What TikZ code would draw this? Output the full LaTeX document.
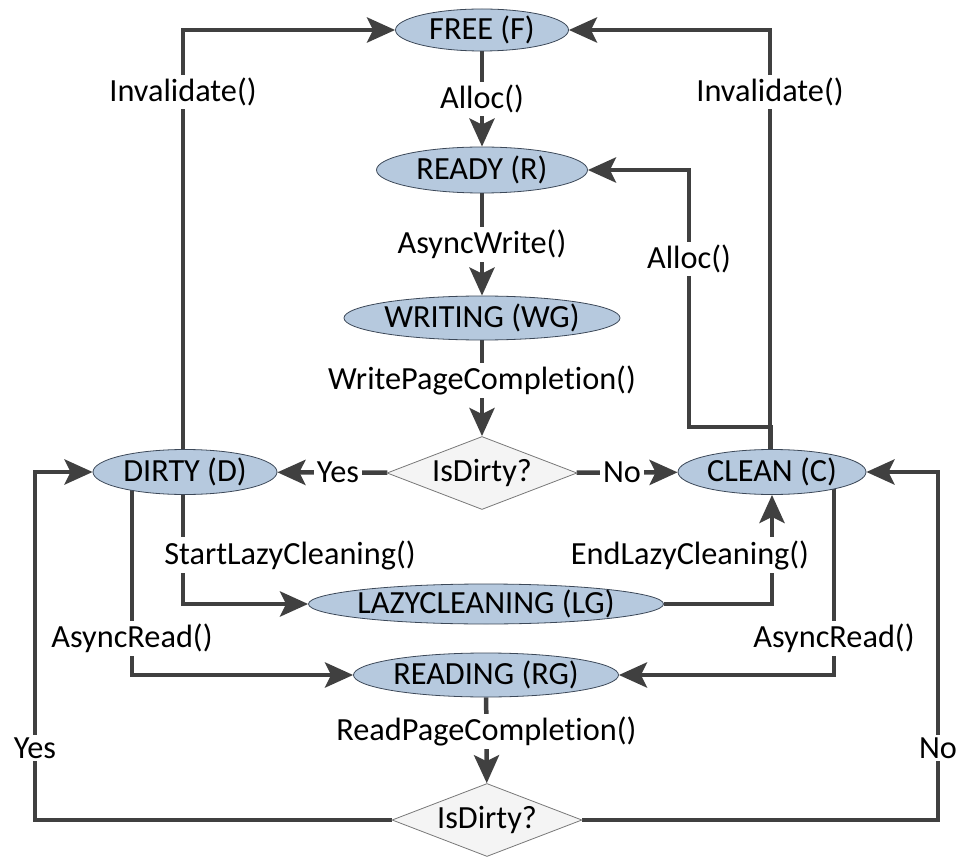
\documentclass[tikz,border=0pt]{standalone}
\usepackage{fontspec}
\setmainfont{Carlito}[Ligatures=NoCommon]
\usetikzlibrary{arrows.meta,shapes.geometric,backgrounds}

\definecolor{linegray}{RGB}{64,64,64}
\definecolor{statefill}{RGB}{182,201,222}
\definecolor{stateedge}{RGB}{60,72,88}
\definecolor{testfill}{RGB}{244,244,244}
\definecolor{testedge}{RGB}{120,120,120}

\tikzset{
  state/.style={ellipse, draw=stateedge, line width=0.8pt, fill=statefill,
    inner sep=0pt, font=\fontsize{32.3}{36}\selectfont},
  test/.style={diamond, draw=testedge, line width=0.8pt, fill=testfill,
    aspect=2.6, inner sep=0pt, minimum width=190pt, minimum height=73pt,
    font=\fontsize{32.3}{36}\selectfont},
  conn/.style={draw=linegray, line width=4.5pt,
    -{Stealth[length=28pt,width=25pt,inset=6pt]}},
  lbl/.style={fill=white, inner xsep=3pt, inner ysep=3pt,
    font=\fontsize{32.3}{36}\selectfont},
}

\begin{document}
\begin{tikzpicture}[x=1pt,y=-1pt]
\useasboundingbox (0,0) rectangle (958,858);

% states
\node[state, minimum width=173pt, minimum height=42pt] (F)  at (482,30)  {FREE (F)};
\node[state, minimum width=211pt, minimum height=46pt] (R)  at (482,170) {READY (R)};
\node[state, minimum width=266pt, minimum height=44pt] (WG) at (482,318) {WRITING (WG)};
\node[state, minimum width=184pt, minimum height=45pt] (D)  at (185,472) {DIRTY (D)};
\node[state, minimum width=188pt, minimum height=45pt] (C)  at (772,472) {CLEAN (C)};
\node[state, minimum width=355pt, minimum height=40pt, inner xsep=-12pt] (LG) at (486,604) {LAZYCLEANING (LG)};
\node[state, minimum width=265pt, minimum height=44pt] (RG) at (486,675) {READING (RG)};

% decisions
\node[test] (T1) at (482,473) {IsDirty?};
\node[test] (T2) at (487,820) {IsDirty?};

% bend points
\coordinate (ca) at (689,427);
\coordinate (ly) at (35,748);
\coordinate (ry) at (938,748);

\begin{pgfonlayer}{background}
  % main write path
  \draw[conn] (F) -- node[lbl]{Alloc()} (R);
  \draw[conn] (R) -- node[lbl]{AsyncWrite()} (WG);
  \draw[conn] (WG) -- node[lbl, pos=0.42]{WritePageCompletion()} (T1);
  \draw[conn] (T1) -- node[lbl, pos=0.45]{Yes} (D);
  \draw[conn] (T1) -- node[lbl, pos=0.45]{No} (C);

  % invalidation back to FREE
  \draw[conn] ([xshift=-2pt]D.center) |- node[lbl, pos=0.43]{Invalidate()} (F.west);
  \draw[conn] ([xshift=-2pt]C.center) |- node[lbl, pos=0.43]{Invalidate()} (F.east);

  % re-allocation of a clean page
  \draw[conn] ([xshift=-1pt]C.center) |- (ca) -- node[lbl, pos=0.655]{Alloc()} (ca |- R.east) -- (R.east);

  % lazy cleaning
  \draw[conn] ([xshift=-2pt]D.center) |- (LG.west);
  \draw[conn] (LG.east) -| (C.south);

  % reads
  \draw[conn] ([xshift=-53pt]D.center) |- node[lbl, pos=0.41]{AsyncRead()} (RG.west);
  \draw[conn] ([xshift=62pt]C.center) |- node[lbl, pos=0.41]{AsyncRead()} (RG.east);
  \draw[conn] (RG) -- node[lbl, pos=0.4]{ReadPageCompletion()} (T2);

  % outcome of the read
  \draw[conn] (T2.west) -| (ly) node[lbl]{Yes} |- (D.west);
  \draw[conn] (T2.east) -| (ry) node[lbl]{No} |- (C.east);
\end{pgfonlayer}

% labels of the lazy cleaning transitions
\node[lbl] (sl) at (290,555) {StartLazyCleaning()};
\node[lbl] (el) at (690,555) {EndLazyCleaning()};
\end{tikzpicture}
\end{document}
